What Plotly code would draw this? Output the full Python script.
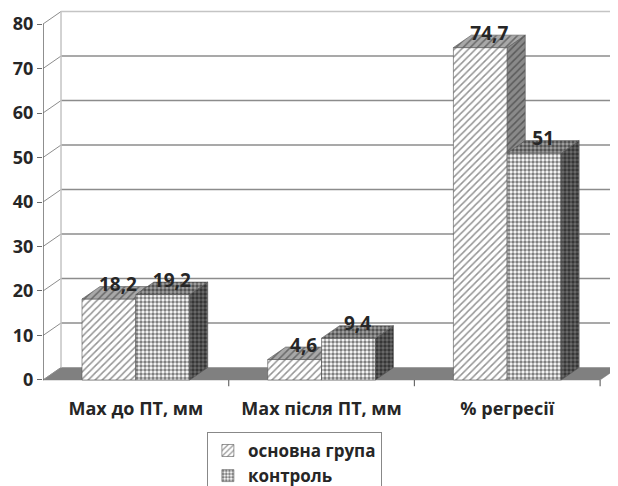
import plotly.graph_objects as go

# ---- data ----
categories = ["Max до ПТ, мм", "Max після ПТ, мм", "% регресії"]
main_vals = [18.2, 4.6, 74.7]
ctrl_vals = [19.2, 9.4, 51]
series_names = ["основна група", "контроль"]
y_ticks = [0, 10, 20, 30, 40, 50, 60, 70, 80]

# ---- geometry (data units) ----
W = 0.29      # bar width (category = 1)
DX = 0.097    # depth offset in x
DY = 2.8      # depth offset in y
X_MAX = 3.0963
FONT = "Open Sans"
TXT = "#262626"

centers = [i + 0.5 for i in range(len(categories))]
n_cat = len(categories)

fig = go.Figure()

# floor
fig.add_trace(go.Scatter(
    x=[0, n_cat, n_cat + DX, DX, 0], y=[0, 0, DY, DY, 0],
    fill="toself", fillcolor="#808080", line=dict(color="#808080", width=0.5),
    mode="lines", showlegend=False, hoverinfo="skip", zorder=0))

# back-wall gridlines and connectors
for v in y_ticks:
    if v == 0:
        continue
    col = "#c4c4c4" if v == y_ticks[-1] else "#8c8c8c"
    fig.add_trace(go.Scatter(x=[DX, X_MAX + 0.2], y=[v + DY, v + DY], mode="lines",
                             line=dict(color=col, width=1.5), showlegend=False,
                             hoverinfo="skip", zorder=0))
for v in y_ticks:
    fig.add_trace(go.Scatter(x=[0, DX], y=[v, v + DY], mode="lines",
                             line=dict(color="#8c8c8c", width=1), showlegend=False,
                             hoverinfo="skip", zorder=0))
# back wall left edge
fig.add_trace(go.Scatter(x=[DX, DX], y=[DY, y_ticks[-1] + DY], mode="lines",
                         line=dict(color="#c4c4c4", width=1.5), showlegend=False,
                         hoverinfo="skip", zorder=0))
# front axis line
fig.add_trace(go.Scatter(x=[0, 0], y=[0, y_ticks[-1]], mode="lines",
                         line=dict(color="#6a6a6a", width=1.5), showlegend=False,
                         hoverinfo="skip", zorder=0))
# category boundary ticks
for k in range(1, n_cat + 1):
    fig.add_trace(go.Scatter(x=[k, k], y=[0, -1.4], mode="lines",
                             line=dict(color="#6a6a6a", width=1.2), showlegend=False,
                             hoverinfo="skip", zorder=0))


def faces(vals, left_off, z, shape, top_col, side_col, fg, size, solid, front_bg, name):
    fig.add_trace(go.Bar(
        x=centers, y=vals, width=W, offset=left_off, name=name,
        marker=dict(color=front_bg, line=dict(color="#555555", width=0.6),
                    pattern=dict(shape=shape, fgcolor=fg, bgcolor=front_bg,
                                 size=size, solidity=solid, fillmode="overlay")),
        zorder=z))
    sx, sy, tx, ty = [], [], [], []
    for c, v in zip(centers, vals):
        l = c + left_off
        r = l + W
        sx += [r, r + DX, r + DX, r, r, None]
        sy += [0, DY, v + DY, v, 0, None]
        tx += [l, r, r + DX, l + DX, l, None]
        ty += [v, v, v + DY, v + DY, v, None]
    fig.add_trace(go.Scatter(x=sx, y=sy, fill="toself", mode="lines",
                             fillcolor=side_col,
                             fillpattern=dict(shape=shape, fgcolor=fg, bgcolor=side_col,
                                              size=size, solidity=solid, fillmode="overlay"),
                             line=dict(color="#555555", width=0.6),
                             showlegend=False, hoverinfo="skip", zorder=z))
    fig.add_trace(go.Scatter(x=tx, y=ty, fill="toself", mode="lines",
                             fillcolor=top_col,
                             fillpattern=dict(shape=shape, fgcolor=fg, bgcolor=top_col,
                                              size=size, solidity=solid, fillmode="overlay"),
                             line=dict(color="#555555", width=0.6),
                             showlegend=False, hoverinfo="skip", zorder=z))


faces(main_vals, -W, 1, "/", "#a8a8a8", "#8a8a8a", "#2a2a2a", 5, 0.3, "#ffffff", series_names[0])
faces(ctrl_vals, 0, 2, ".", "#a4a4a4", "#6e6e6e", "#000000", 4, 0.6, "#ffffff", series_names[1])

# data labels
def lab(v):
    return f"{v:g}".replace(".", ",")

lx = [c - W / 2 + DX / 2 for c in centers] + [c + W / 2 + DX / 2 for c in centers]
ly = [v + DY for v in main_vals] + [v + DY for v in ctrl_vals]
lt = [lab(v) for v in main_vals] + [lab(v) for v in ctrl_vals]
fig.add_trace(go.Scatter(x=lx, y=ly, text=lt, mode="text", textposition="middle center",
                         textfont=dict(family=FONT, size=19, color=TXT, weight="bold"),
                         showlegend=False, hoverinfo="skip", zorder=3))

fig.update_layout(
    width=618, height=486,
    margin=dict(l=35, r=8, t=0, b=102, autoexpand=False),
    paper_bgcolor="white", plot_bgcolor="white",
    barmode="overlay",
    font=dict(family=FONT, color=TXT, weight="bold"),
    xaxis=dict(range=[0, X_MAX], tickvals=centers, ticktext=categories, ticks="",
               showgrid=False, zeroline=False, showline=False, ticklabelstandoff=4,
               tickfont=dict(family=FONT, size=18, color=TXT, weight="bold")),
    yaxis=dict(range=[-2.7, 83.6], tickvals=y_ticks, ticks="outside", ticklen=5,
               tickcolor="#6a6a6a", tickwidth=1.2, showgrid=False, zeroline=False,
               showline=False,
               tickfont=dict(family=FONT, size=18, color=TXT, weight="bold")),
    legend=dict(x=0.285, y=-0.104, xanchor="left", yanchor="top",
                bordercolor="#888888", borderwidth=1, bgcolor="white", itemwidth=30,
                font=dict(family=FONT, size=17, color=TXT, weight="bold")),
    showlegend=True,
)

fig.write_html("out.html")
